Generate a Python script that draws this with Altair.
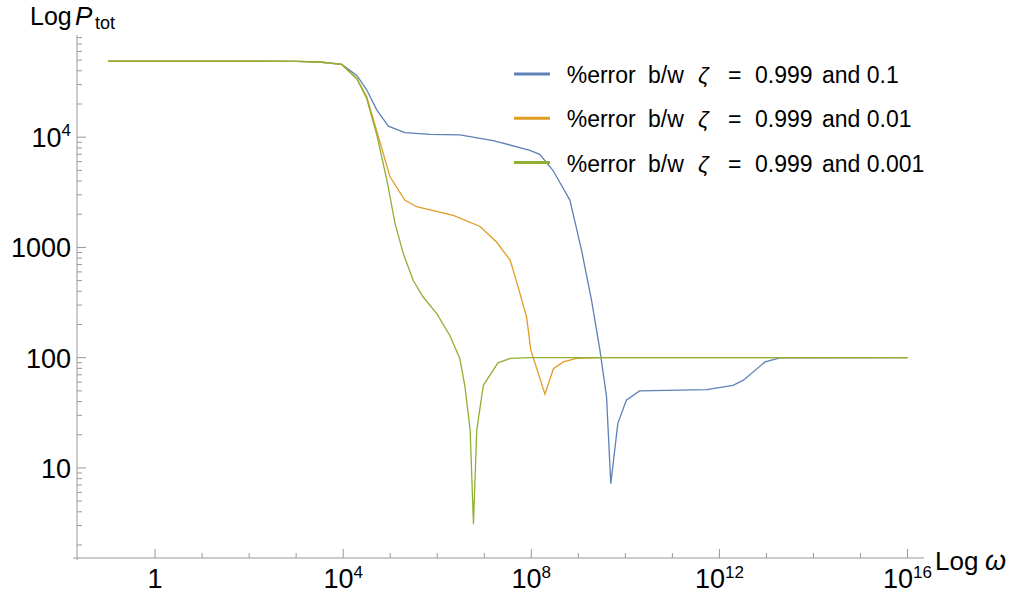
import altair as alt
import pandas as pd

# ---- data: percentage error in total power vs. frequency ω ----
# zeta pair 0.999 vs 0.1
omega_a = [0.1, 10, 100, 1000, 3162, 9333, 19500, 31600, 51300, 91200, 204000,
           708000, 3.02e6, 1.55e7, 9.33e7, 1.51e8, 2.88e8, 6.61e8, 1.17e9, 1.91e9,
           2.88e9, 3.98e9, 4.90e9, 6.92e9, 1.05e10, 2.0e10, 5.37e11, 1.95e12,
           3.24e12, 9.33e12, 1.95e13, 1e16]
perr_a = [49000, 49000, 49000, 48800, 48100, 45700, 36300, 26900, 17800, 12600, 11000,
          10600, 10500, 9330, 7590, 7000, 5010, 2690, 944, 331,
          117, 44.1, 7.2, 25.4, 41.1, 50.0, 51.4, 56.2,
          62.5, 91.6, 99.5, 100]

# zeta pair 0.999 vs 0.01
omega_b = [0.1, 10, 100, 1000, 3162, 9333, 19500, 31600, 51300, 98900, 204000,
           363000, 2.19e6, 8.13e6, 1.82e7, 3.55e7, 5.25e7, 7.94e7, 9.77e7, 1.95e8,
           2.95e8, 4.79e8, 9.12e8, 3.16e9, 1e16]
perr_b = [49000, 49000, 49000, 48800, 48100, 45700, 33900, 23400, 11500, 4370, 2690,
          2340, 1950, 1550, 1120, 767, 437, 234, 117, 46.7,
          79.4, 91.6, 98.4, 100, 100]

# zeta pair 0.999 vs 0.001
omega_c = [0.1, 10, 100, 1000, 3162, 9333, 19500, 31600, 51300, 85100, 1.26e5,
           1.91e5, 3.09e5, 5.01e5, 9.77e5, 1.86e6, 3.02e6, 3.89e6, 5.01e6, 5.89e6,
           6.92e6, 9.55e6, 1.95e7, 3.55e7, 1e8, 1e16]
perr_c = [49000, 49000, 49000, 48800, 48100, 45700, 33900, 22400, 10700, 4070, 1660,
          871, 501, 355, 251, 158, 98.4, 54.3, 22.0, 3.08,
          22.0, 56.2, 89.7, 98.4, 100, 100]

zeta_small = ["0.1", "0.01", "0.001"]
series_colors = ["#5E81B5", "#E19C24", "#8FB032"]

# axis ticks
x_major = [1, 1e4, 1e8, 1e12, 1e16]
x_major_base = ["1", "10", "10", "10", "10"]
x_major_exp = ["", "4", "8", "12", "16"]
x_minor = [10.0 ** k for k in range(1, 16) if k % 4]

y_major = [10, 100, 1000, 10000]
y_major_base = ["10", "100", "1000", "10"]
y_major_exp = ["", "", "", "4"]

# ---- layout ----
W, H = 847, 523
X_DOMAIN = [10 ** -1.66, 10 ** 16.35]
Y_DOMAIN = [10 ** 0.183, 10 ** 4.927]
y_minor = [m * 10.0 ** k for k in range(0, 5) for m in range(2, 10)
           if Y_DOMAIN[0] <= m * 10.0 ** k <= Y_DOMAIN[1]]

FONT = "Liberation Sans"
GRAY = "#999999"
FS = 27       # tick label size
FS_EXP = 17   # exponent size
CW = 0.556    # digit advance (em)

xs = alt.Scale(type="log", domain=X_DOMAIN)
ys = alt.Scale(type="log", domain=Y_DOMAIN)

layers = []

# axis lines
layers.append(alt.Chart(pd.DataFrame({"a": [0]})).mark_rule(color=GRAY, strokeWidth=1).encode(
    x=alt.value(-4), x2=alt.value(W), y=alt.value(H)))
layers.append(alt.Chart(pd.DataFrame({"a": [0]})).mark_rule(color=GRAY, strokeWidth=1).encode(
    x=alt.value(0), y=alt.value(0), y2=alt.value(H + 2)))

# curves, drawn in order so the last series sits on top
for i, (ox, py) in enumerate([(omega_a, perr_a), (omega_b, perr_b), (omega_c, perr_c)]):
    df = pd.DataFrame({"omega": ox, "perr": py})
    layers.append(
        alt.Chart(df).mark_line(color=series_colors[i], strokeWidth=1.3).encode(
            x=alt.X("omega:Q", scale=xs, axis=None),
            y=alt.Y("perr:Q", scale=ys, axis=None),
        )
    )

# inward tick marks
def x_ticks(vals, length):
    return alt.Chart(pd.DataFrame({"v": vals})).mark_rule(color=GRAY, strokeWidth=1).encode(
        x=alt.X("v:Q", scale=xs, axis=None),
        y=alt.value(H), y2=alt.value(H - length))

def y_ticks(vals, length):
    return alt.Chart(pd.DataFrame({"v": vals})).mark_rule(color=GRAY, strokeWidth=1).encode(
        y=alt.Y("v:Q", scale=ys, axis=None),
        x=alt.value(0), x2=alt.value(length))

layers += [x_ticks(x_major, 9), x_ticks(x_minor, 5), y_ticks(y_major, 9), y_ticks(y_minor, 5)]

# x tick labels: base + raised exponent, centred on the tick
for v, b, e in zip(x_major, x_major_base, x_major_exp):
    bw = len(b) * CW * FS
    ew = len(e) * CW * FS_EXP
    k = (bw - ew) / 2
    src = alt.Chart(pd.DataFrame({"v": [v]}))
    layers.append(src.mark_text(text=b, align="right", baseline="alphabetic", dx=k,
                                font=FONT, fontSize=FS, color="black").encode(
        x=alt.X("v:Q", scale=xs, axis=None), y=alt.value(H + 30)))
    if e:
        layers.append(src.mark_text(text=e, align="left", baseline="alphabetic", dx=k,
                                    font=FONT, fontSize=FS_EXP, color="black").encode(
            x=alt.X("v:Q", scale=xs, axis=None), y=alt.value(H + 20)))

# y tick labels
for v, b, e in zip(y_major, y_major_base, y_major_exp):
    ew = len(e) * CW * FS_EXP
    src = alt.Chart(pd.DataFrame({"v": [v]}))
    layers.append(src.mark_text(text=b, align="right", baseline="alphabetic", dx=-6 - ew, dy=10,
                                font=FONT, fontSize=FS, color="black").encode(
        y=alt.Y("v:Q", scale=ys, axis=None), x=alt.value(0)))
    if e:
        layers.append(src.mark_text(text=e, align="right", baseline="alphabetic", dx=-6, dy=-1,
                                    font=FONT, fontSize=FS_EXP, color="black").encode(
            y=alt.Y("v:Q", scale=ys, axis=None), x=alt.value(0)))

def label(txt, x, y, size, style="normal"):
    return alt.Chart(pd.DataFrame({"t": [txt]})).mark_text(
        align="left", baseline="alphabetic", font=FONT, fontSize=size,
        fontStyle=style, color="black").encode(
        x=alt.value(x), y=alt.value(y), text="t:N")

# axis titles
layers += [
    label("Log", -47, -10, 25),
    label("P", -2, -10, 26, "italic"),
    label("tot", 18, -6, 18),
    label("Log", 858, 535, 26),
    label("ω", 908, 535, 27, "italic"),
]

# legend
for i, (z, c) in enumerate(zip(zeta_small, series_colors)):
    ly = 39 + i * 44.3
    by = ly + 9
    layers.append(
        alt.Chart(pd.DataFrame({"z": [z]})).mark_rule(color=c, strokeWidth=3).encode(
            x=alt.value(437), x2=alt.value(473), y=alt.value(ly)))
    layers += [
        label("%error", 489.7, by, 23),
        label("b/w", 571, by, 23),
        label("ζ", 621, by, 23, "italic"),
        label("=", 651, by, 23),
        label("0.999", 678, by, 23),
        label(f"and {z}", 745, by, 23),
    ]

chart = alt.layer(*layers).properties(
    width=W, height=H,
    padding={"left": 77, "top": 35, "right": 1015 - 77 - W, "bottom": 596 - 35 - H},
    autosize=alt.AutoSizeParams(type="none"),
).configure_view(strokeWidth=0)

chart.save("out.html", embed_options={"renderer": "svg", "actions": False})
